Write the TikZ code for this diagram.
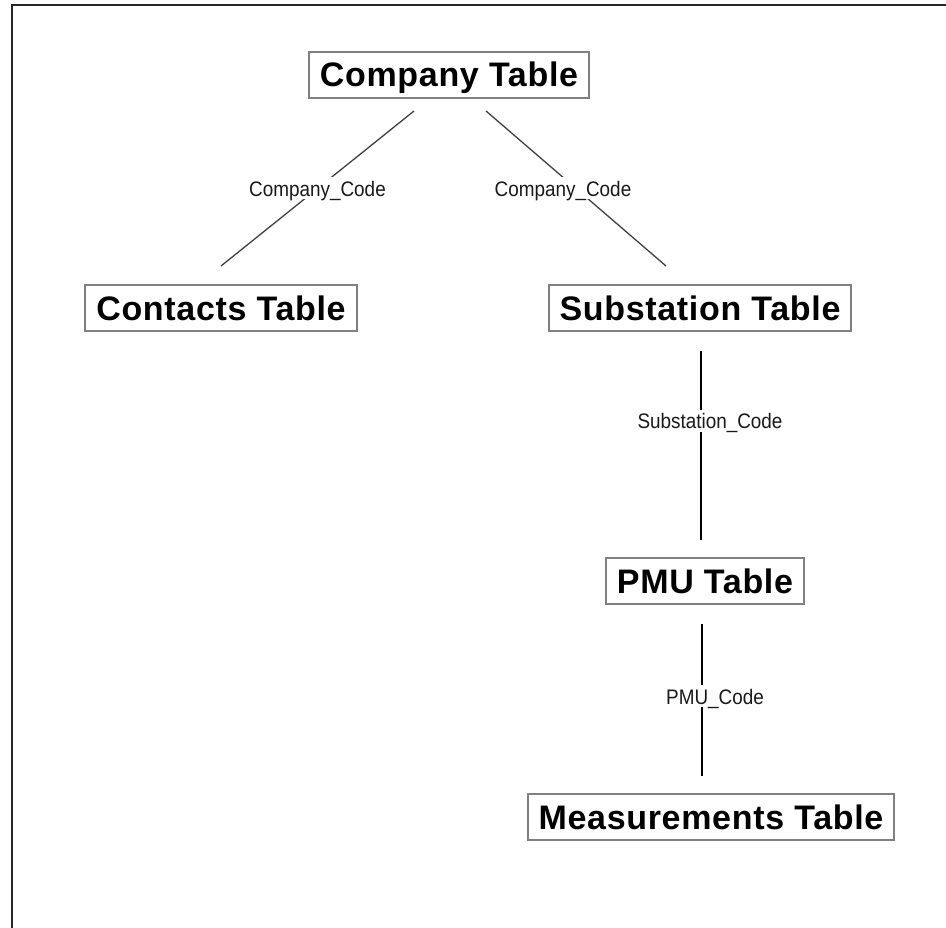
\documentclass[tikz,border=0pt]{standalone}
\usepackage{fontspec}
\setmainfont{Liberation Sans}
\newfontfamily\boxfont[LetterSpace=2]{Liberation Sans}
\newfontfamily\lblfont[FakeStretch=0.9]{Liberation Sans}

\tikzset{
  tbl/.style={draw=black!50, line width=2pt, fill=white,
    font=\boxfont\bfseries\fontsize{34}{40}\selectfont,
    text height=24pt, text depth=0pt, minimum height=46pt,
    inner xsep=11pt, inner ysep=0pt},
  link/.style={line width=1.3pt, draw=black!75},
  vlink/.style={line width=1.3pt, draw=black},
  lbl/.style={fill=white, font=\lblfont\fontsize{21}{24}\selectfont,
    text=black!90, text height=16pt, text depth=0pt,
    inner xsep=2pt, inner ysep=3pt},
  frameline/.style={line width=2pt, draw=black!85}
}

\begin{document}
\begin{tikzpicture}[x=1pt, y=-1pt]
  \useasboundingbox (0,0) rectangle (946,928);

  % cropped outer frame: only top and left edges are visible
  \draw[frameline] (12,928) -- (12,5) -- (946,5);

  % tables
  \node[tbl] (company)    at (449,75)  {Company Table};
  \node[tbl] (contacts)   at (221,308) {Contacts Table};
  \node[tbl] (substation) at (700,308) {Substation Table};
  \node[tbl] (pmu)        at (705,581) {PMU Table};
  \node[tbl] (meas)       at (711,817) {Measurements Table};

  % relations with their key fields
  \draw[link] ([xshift=-35pt,yshift=-12pt]company.south)
    -- node[lbl, pos=0.5] {Company\_Code}
    ([yshift=18pt]contacts.north);
  \draw[link] ([xshift=37pt,yshift=-12pt]company.south)
    -- node[lbl, pos=0.5, xshift=-13pt] {Company\_Code}
    ([xshift=-34pt,yshift=18pt]substation.north);
  \draw[vlink] ([xshift=1pt,yshift=-19pt]substation.south)
    -- node[lbl, pos=0.369, xshift=9pt] {Substation\_Code}
    ([xshift=-4pt,yshift=17pt]pmu.north);
  \draw[vlink] ([xshift=-3pt,yshift=-19pt]pmu.south)
    -- node[lbl, pos=0.474, xshift=13pt] {PMU\_Code}
    ([xshift=-9pt,yshift=17pt]meas.north);
\end{tikzpicture}
\end{document}
